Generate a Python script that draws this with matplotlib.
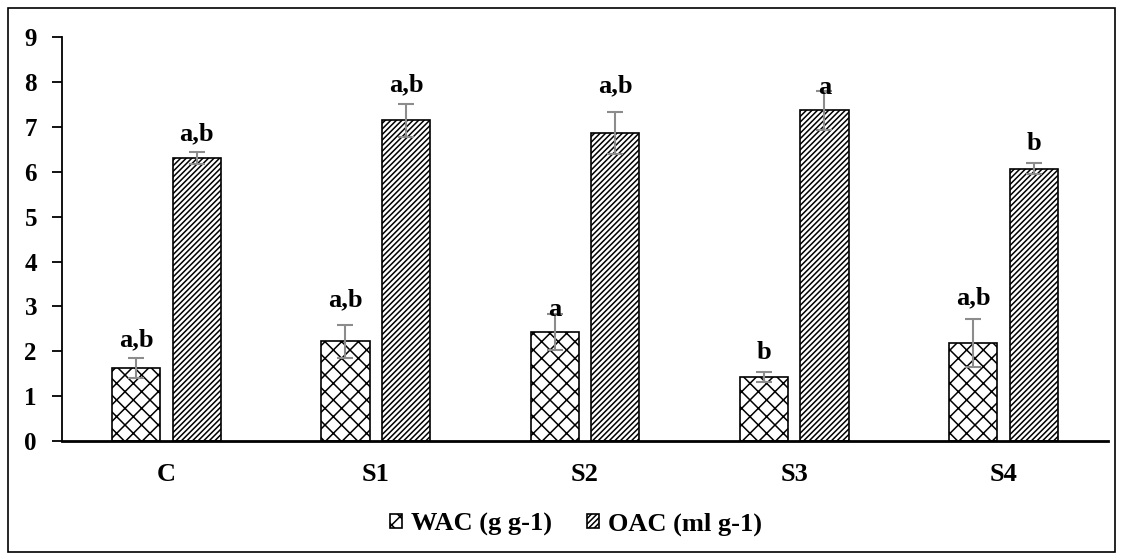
import matplotlib.pyplot as plt
import numpy as np
from matplotlib.patches import Rectangle

categories = ['C', 'S1', 'S2', 'S3', 'S4']
wac = [1.63, 2.22, 2.43, 1.43, 2.18]
wac_err = [0.22, 0.37, 0.40, 0.11, 0.53]
oac = [6.31, 7.15, 6.87, 7.37, 6.07]
oac_err = [0.14, 0.37, 0.46, 0.44, 0.12]
wac_letters = ['a,b', 'a,b', 'a', 'b', 'a,b']
oac_letters = ['a,b', 'a,b', 'a,b', 'a', 'b']

plt.rcParams['font.family'] = ['Liberation Serif', 'DejaVu Serif']
plt.rcParams['font.weight'] = 'bold'
plt.rcParams['hatch.linewidth'] = 1.1

fig = plt.figure(figsize=(11.23, 5.59), dpi=100)
ax = fig.add_axes([0.0552, 0.2111, 0.9314, 0.722])

x = np.arange(len(categories))
w = 0.23
off = 0.145

b1 = ax.bar(x - off, wac, w, color='white', edgecolor='black', linewidth=1.2,
            hatch='xx', label='WAC (g g-1)')
b2 = ax.bar(x + off, oac, w, color='white', edgecolor='black', linewidth=1.2,
            hatch='//////', label='OAC (ml g-1)')
ax.errorbar(x - off, wac, yerr=wac_err, fmt='none', ecolor='#8c8c8c',
            elinewidth=1.5, capsize=6, capthick=1.5)
ax.errorbar(x + off, oac, yerr=oac_err, fmt='none', ecolor='#8c8c8c',
            elinewidth=1.5, capsize=6, capthick=1.5)

# letter heights (some overlap the error bars)
wac_lab_y = [2.25, 3.14, 2.94, 1.98, 3.2]
oac_lab_y = [6.86, 7.95, 7.93, 7.89, 6.63]
for i in range(len(categories)):
    ax.text(x[i] - off, wac_lab_y[i], wac_letters[i], ha='center', va='center',
            fontsize=19, fontweight='bold')
    ax.text(x[i] + off, oac_lab_y[i], oac_letters[i], ha='center', va='center',
            fontsize=19, fontweight='bold')

ax.set_xlim(-0.5, len(categories) - 0.5)
ax.set_ylim(0, 9)
ax.set_yticks(range(10))
ax.set_xticks(x)
ax.set_xticklabels(categories, fontsize=19, fontweight='bold')
ax.tick_params(axis='y', labelsize=18, length=7, width=1.3, direction='out', pad=11)
ax.tick_params(axis='x', length=0, pad=16)
for lab in ax.get_yticklabels():
    lab.set_fontweight('bold')
ax.spines['top'].set_visible(False)
ax.spines['right'].set_visible(False)
ax.spines['left'].set_linewidth(1.3)
ax.spines['bottom'].set_linewidth(2)

leg = fig.legend(handles=[b1, b2], loc='center', bbox_to_anchor=(0.513, 0.062),
                 ncol=2, frameon=False, handlelength=0.45,
                 handleheight=0.45, handletextpad=0.35, columnspacing=1.3,
                 prop={'weight': 'bold', 'size': 19})

fig.patches.append(Rectangle((0.007, 0.013), 0.986, 0.973, transform=fig.transFigure,
                             fill=False, edgecolor='black', linewidth=1.2))

fig.savefig('out.png', dpi=100)
